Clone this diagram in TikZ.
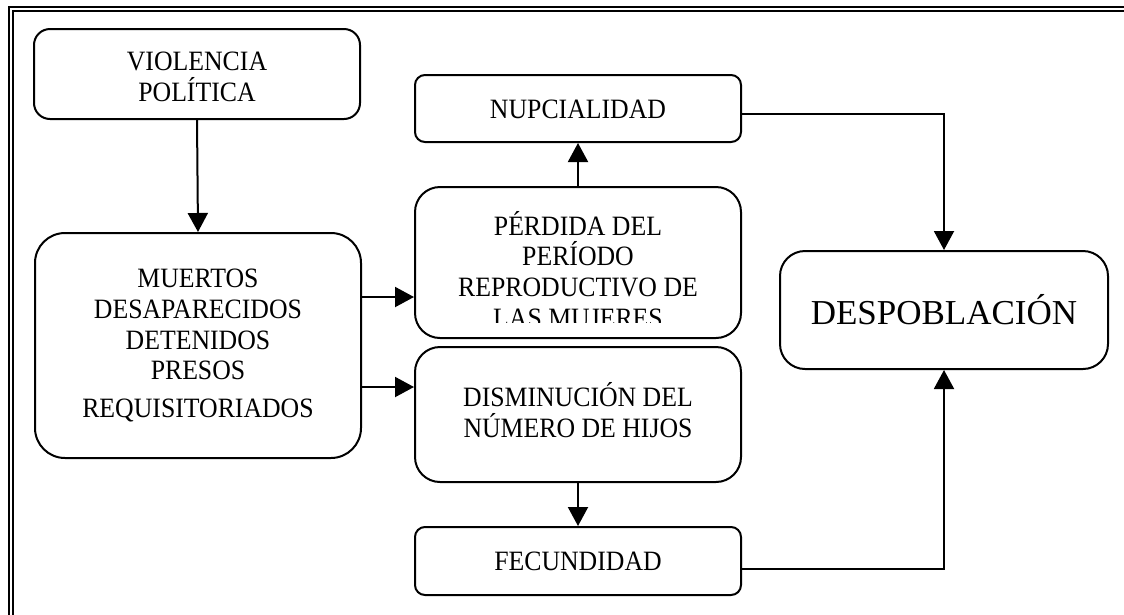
\documentclass[tikz,border=0pt]{standalone}
\usepackage{fontspec}
\setmainfont{Liberation Serif}[FakeStretch=0.92]
\newfontfamily\bigfont{Liberation Serif}
\usetikzlibrary{arrows.meta}
\begin{document}
\begin{tikzpicture}[x=1pt,y=-1pt,
  box/.style={draw, line width=2pt, rounded corners=#1, inner sep=0pt, align=center,
    minimum width=326pt, font=\fontsize{28}{30.8}\selectfont},
  box/.default=12pt,
  txt/.style={inner sep=0pt, align=center, font=\fontsize{28}{30.8}\selectfont},
  conn/.style={line width=2pt, -{Triangle[width=20pt,length=19pt]}},
  frame/.style={line width=2pt}]
\useasboundingbox (0,0) rectangle (1124,614);
\clip (0,0) rectangle (1124,614);
% double frame
\draw[frame] (9,700) -- (9,7) -- (1200,7);
\draw[frame] (13,700) -- (13,11) -- (1200,11);
% boxes
\node[box=16pt, minimum height=90pt] (vp) at (197,74) {};
\node[txt, yshift=-3pt] (vptxt) at (vp.center) {VIOLENCIA\\POLÍTICA};
\node[box=30pt, minimum height=225pt] (mu) at (198,345.5)
  {MUERTOS\\DESAPARECIDOS\\DETENIDOS\\PRESOS\\[7pt]REQUISITORIADOS};
\node[box=10pt, minimum height=67pt] (nu) at (578,108.5) {};
\node[txt, yshift=-1pt] (nutxt) at (nu.center) {NUPCIALIDAD};
\node[box=25pt, minimum height=151pt] (pe) at (578,262.5) {};
\begin{scope}
  \clip (415,187) rectangle (741,322);
  \node[txt, yshift=-7pt] (petxt) at (pe.center) {PÉRDIDA DEL\\PERÍODO\\REPRODUCTIVO DE\\LAS MUJERES};
\end{scope}
\node[box=25pt, minimum height=135pt] (di) at (578,414.5) {};
\node[txt, yshift=4pt] (ditxt) at (di.center) {DISMINUCIÓN DEL\\NÚMERO DE HIJOS};
\node[box=10pt, minimum height=68pt] (fe) at (578,561) {FECUNDIDAD};
\node[box=25pt, minimum width=328pt, minimum height=118pt, font=\bigfont\fontsize{35}{40}\selectfont] (de) at (944,310) {DESPOBLACIÓN};
% helper coordinates
\coordinate (ya) at (0,297);
\coordinate (yb) at (0,387);
\coordinate (yn) at (0,114);
\coordinate (yf) at (0,569);
% connectors
\draw[conn] (vp.south) -- (mu.north);
\draw[conn] (mu.east |- ya) -- (pe.west |- ya);
\draw[conn] (mu.east |- yb) -- (di.west |- yb);
\draw[conn] (pe.north) -- (nu.south);
\draw[conn] (di.south) -- (fe.north);
\draw[conn] (nu.east |- yn) -| (de.north);
\draw[conn] (fe.east |- yf) -| (de.south);
\end{tikzpicture}
\end{document}
